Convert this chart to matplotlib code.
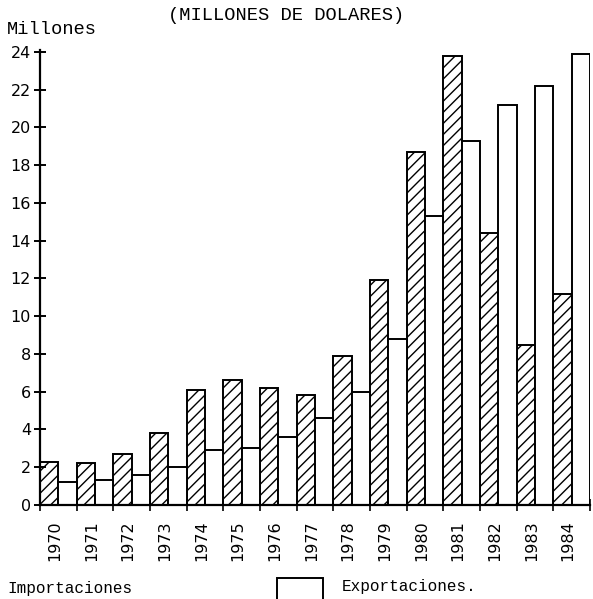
import numpy as np
import matplotlib
matplotlib.use("Agg")
import matplotlib.pyplot as plt
from matplotlib.patches import Rectangle

# valores (millones de dolares)
years = ["1970", "1971", "1972", "1973", "1974", "1975", "1976", "1977",
         "1978", "1979", "1980", "1981", "1982", "1983", "1984"]
importaciones = [2.3, 2.2, 2.7, 3.8, 6.1, 6.6, 6.2, 5.8,
                 7.9, 11.9, 18.7, 23.8, 14.4, 8.5, 11.2]
exportaciones = [1.2, 1.3, 1.6, 2.0, 2.9, 3.0, 3.6, 4.6,
                 6.0, 8.8, 15.3, 19.3, 21.2, 22.2, 23.9]
yticks = list(range(0, 25, 2))

plt.rcParams['hatch.linewidth'] = 1.0
mono = ['Liberation Mono', 'DejaVu Sans Mono']
narrow = ['Liberation Sans Narrow', 'DejaVu Sans']

fig = plt.figure(figsize=(5.93, 5.99), dpi=100)
ax = fig.add_axes([40/593, 94/599, 550/593, 455/599])

x = np.arange(len(years))
w = 0.5
ax.bar(x, importaciones, width=w, align='edge', facecolor='white',
       edgecolor='black', hatch='///', linewidth=1.4)
ax.bar(x + w, exportaciones, width=w, align='edge', facecolor='white',
       edgecolor='black', linewidth=1.4)

ax.set_xlim(0, len(years))
ax.set_ylim(0, 24.1)
ax.spines['top'].set_visible(False)
ax.spines['right'].set_visible(False)
ax.spines['left'].set_linewidth(1.6)
ax.spines['bottom'].set_linewidth(1.6)

ax.set_yticks(yticks)
ax.set_yticklabels([str(v) for v in yticks], family=narrow, fontsize=11.5)
ax.tick_params(axis='y', direction='inout', length=9, width=1.4, pad=2)

# marcas en los limites de cada grupo, etiquetas centradas
ax.set_xticks(np.arange(len(years) + 1))
ax.set_xticklabels([])
ax.tick_params(axis='x', direction='inout', length=8, width=1.2)
for i, yr in enumerate(years):
    ax.text(i + 0.4, -0.8, yr, rotation=90, ha='center', va='top',
            family=narrow, fontsize=11.5)

fig.text(7/593, 1 - 29/599, "Millones", family=mono, fontsize=13.5, va='center')
fig.text(286/593, 1 - 15/599, "(MILLONES DE DOLARES)", family=mono,
         fontsize=13.5, ha='center', va='center')

# leyenda
fig.text(7/593, 1 - 588/599, "Importaciones", family=mono, fontsize=11.5,
         va='center')
fig.patches.append(Rectangle((277/593, -0.02), 46/593, 0.02 + 21/599,
                             transform=fig.transFigure, facecolor='white',
                             edgecolor='black', linewidth=1.4))
fig.text(342/593, 1 - 587/599, "Exportaciones.", family=mono, fontsize=11.5,
         va='center')

plt.savefig("out.png", dpi=100)
